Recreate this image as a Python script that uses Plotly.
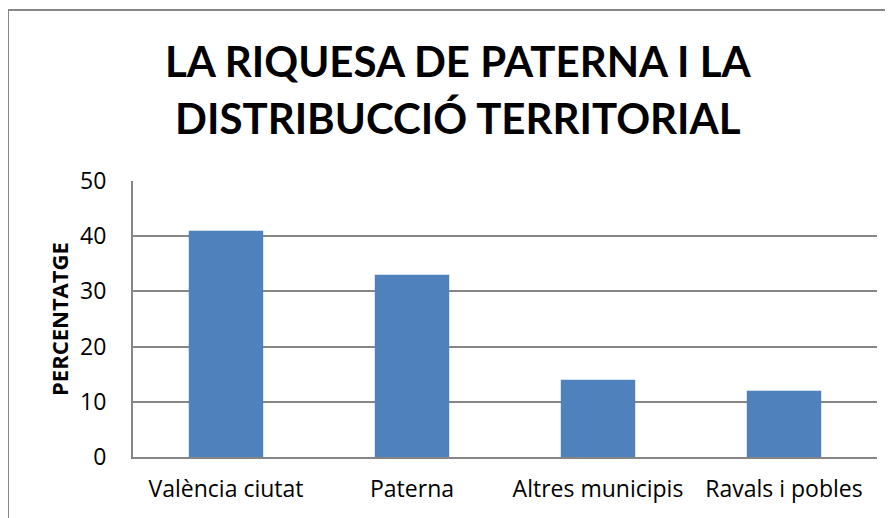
import plotly.graph_objects as go

categories = ["València ciutat", "Paterna", "Altres municipis", "Ravals i pobles"]
values = [41, 33, 14, 12]
y_ticks = [0, 10, 20, 30, 40, 50]

title_lines = ["LA RIQUESA DE PATERNA I LA", "DISTRIBUCCIÓ TERRITORIAL"]
y_title = "PERCENTATGE"

# the page body adds an 8px offset; layout numbers below are in figure pixels
W, H = 893, 518
ml, mr, mt, mb = 125, 24, 173, 69
pw = W - ml - mr
ph = H - mt - mb

fig = go.Figure()
fig.add_trace(go.Bar(x=categories, y=values, marker=dict(color="#4F81BD", line=dict(width=0)),
                     hoverinfo="x+y"))

title_font = "Lato, 'Open Sans', sans-serif"
body_font = "'Open Sans', Lato, sans-serif"

fig.update_layout(
    width=W, height=H,
    margin=dict(l=ml, r=mr, t=mt, b=mb, autoexpand=False),
    paper_bgcolor="white", plot_bgcolor="white",
    bargap=0.6,
    showlegend=False,
    font=dict(family=body_font, color="black"),
    xaxis=dict(showgrid=False, showline=True, linecolor="#868686", linewidth=2,
               ticks="", tickfont=dict(size=23, color="black"), ticklabelstandoff=10,
               automargin=False),
    yaxis=dict(range=[0, 50], tickvals=y_ticks, showgrid=True, gridcolor="#868686",
               gridwidth=1.5, showline=True, linecolor="#868686", linewidth=2,
               ticks="", tickfont=dict(size=23, color="black"), ticklabelstandoff=20,
               zeroline=False, automargin=False),
)

# y-axis title
fig.add_annotation(text="<b>" + y_title + "</b>", xref="paper", yref="paper",
                   x=(51 - ml) / pw, y=0.5, xanchor="center", yanchor="middle",
                   textangle=-90, showarrow=False,
                   font=dict(family=body_font, size=22, color="black"))

# title as two centred lines
px_centres = [53, 110]
for line, pc in zip(title_lines, px_centres):
    fig.add_annotation(text="<b>" + line + "</b>", xref="paper", yref="paper",
                       x=(450 - ml) / pw, y=(H - mb - pc) / ph, xanchor="center",
                       yanchor="middle", showarrow=False,
                       font=dict(family=title_font, size=42, color="black"))

# outer chart border (partly cropped by the canvas on right and bottom)
x0 = (0 - ml) / pw
y1 = (H - mb - 2) / ph
fig.add_shape(type="rect", xref="paper", yref="paper", x0=x0, x1=1.2, y0=-0.5, y1=y1,
              line=dict(color="#868686", width=2), fillcolor="rgba(0,0,0,0)", layer="below")

fig.write_html("out.html")
